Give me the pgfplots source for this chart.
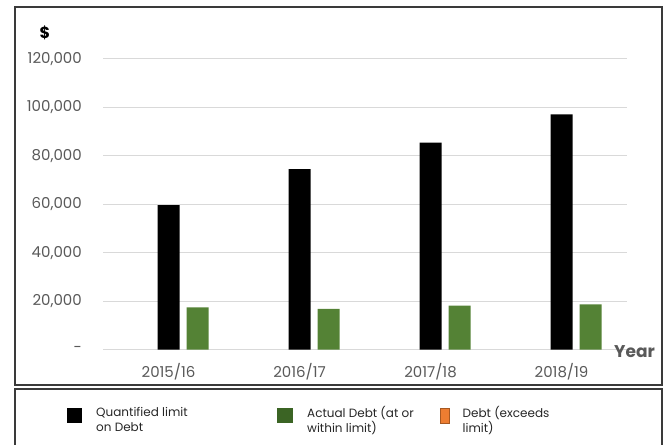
\documentclass[border=0pt]{standalone}
\usepackage{pgfplots}
\pgfplotsset{compat=1.18}
\usepackage{fontspec}
\setmainfont{Poppins}
\definecolor{barblack}{HTML}{000000}
\definecolor{bargreen}{HTML}{548235}
\definecolor{leggreen}{HTML}{3B6424}
\definecolor{legorange}{HTML}{ED7D31}
\definecolor{ticktext}{HTML}{595959}
\definecolor{gridc}{HTML}{D9D9D9}
\definecolor{framec}{HTML}{3A3A3A}
\begin{document}
\begin{tikzpicture}
\path[use as bounding box] (0pt,0pt) rectangle (668pt,444pt);
\draw[framec, line width=1.4pt] (15pt,59pt) rectangle (662pt,437pt);
\draw[framec, line width=1.4pt] (15pt,-10pt) rectangle (662pt,55pt);
\begin{axis}[
  at={(103pt,94.3pt)}, anchor=south west,
  scale only axis, width=524pt, height=290.7pt,
  xmin=-0.5, xmax=3.5, ymin=0, ymax=120000,
  scaled y ticks=false,
  axis line style={draw=none},
  tick style={draw=none},
  ymajorgrids, grid style={gridc, line width=1pt},
  xtick={0,1,2,3},
  xticklabels={2015/16,2016/17,2017/18,2018/19},
  ytick={0,20000,40000,60000,80000,100000,120000},
  yticklabels={{-},{20,000},{40,000},{60,000},{80,000},{100,000},{120,000}},
  ticklabel style={font=\fontsize{15}{18}\selectfont, text=ticktext},
  yticklabel style={inner sep=0pt, anchor=east, xshift=-21pt},
  xticklabel style={inner sep=0pt, anchor=north, yshift=-9pt},
  ylabel={\$},
  every axis y label/.style={at={(axis description cs:-0.111,1.089)}, anchor=center, font=\fontsize{16}{19}\selectfont\bfseries},
  xlabel={Year},
  every axis x label/.style={at={(axis description cs:1.0143,-0.008)}, anchor=center, font=\fontsize{17}{20}\selectfont\bfseries, text=ticktext},
  ybar, bar width=22pt,
  legend columns=3,
  legend style={draw=none, fill=none, inner sep=0pt, column sep=0pt,
    at={(axis description cs:-0.0687,-0.228)}, anchor=west,
    font=\fontsize{12}{15}\selectfont, text=black!85,
    nodes={inner sep=0pt, anchor=west}},
]
\addplot[fill=barblack, draw=none, bar shift=0pt,
  legend image code/.code={\fill[black] (0pt,-7.5pt) rectangle (15pt,7.5pt); \path (29pt,0pt);}]
  coordinates {(0,59700) (1,74500) (2,85500) (3,97100)};
\addlegendentry{\makebox[181pt][l]{\begin{tabular}{@{}l@{}}Quantified limit\\on Debt\end{tabular}}}
\addplot[fill=bargreen, draw=none, bar shift=29pt,
  legend image code/.code={\fill[leggreen] (0pt,-7.5pt) rectangle (16pt,7.5pt); \path (30pt,0pt);}]
  coordinates {(0,17500) (1,16900) (2,18150) (3,18700)};
\addlegendentry{\makebox[133pt][l]{\begin{tabular}{@{}l@{}}Actual Debt (at or\\within limit)\end{tabular}}}
\addlegendimage{legend image code/.code={\filldraw[fill=legorange, draw=legorange!70!black, line width=0.5pt] (0pt,-7.5pt) rectangle (9pt,7.5pt); \path (22pt,0pt);}}
\addlegendentry{\begin{tabular}{@{}l@{}}Debt (exceeds\\limit)\end{tabular}}
\end{axis}
\end{tikzpicture}
\end{document}
